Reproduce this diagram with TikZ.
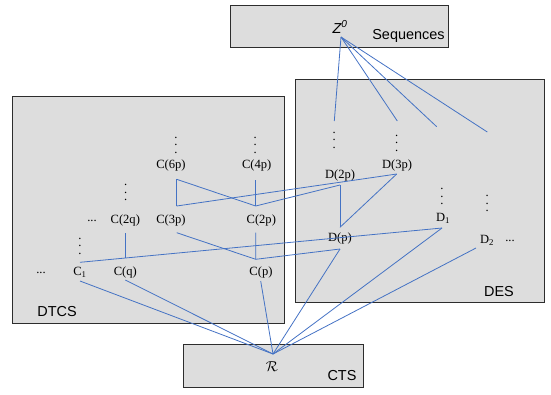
\documentclass[tikz,border=0pt]{standalone}
\usepackage{fontspec}
\setmainfont{Liberation Serif}
\newfontfamily\arialf{Liberation Sans}
\usetikzlibrary{calc}
\definecolor{lnblue}{RGB}{68,114,196}
\definecolor{boxfill}{RGB}{221,221,221}
\definecolor{boxline}{RGB}{45,45,45}
\newcommand{\myvd}{\vbox{\baselineskip=7.5bp\lineskiplimit=-100bp\lineskip=0pt\hbox{.}\hbox{.}\hbox{.}}}
\begin{document}
\begin{tikzpicture}[x=1bp,y=-1bp,
  boxnode/.style={draw=boxline, fill=boxfill, line width=1bp, inner sep=0pt, outer sep=0pt},
  lbl/.style={inner sep=0pt, font=\fontsize{12.6}{14}\selectfont},
  sanslbl/.style={inner sep=0pt, font=\arialf\fontsize{14.5}{16}\selectfont},
  vdnode/.style={inner sep=0pt, font=\fontsize{12.6}{14}\selectfont},
  ln/.style={draw=lnblue, line width=0.8bp}]
\useasboundingbox (0,0) rectangle (551,394);
% boxes
\node[boxnode, minimum width=218bp, minimum height=42bp] (seq) at (339,26) {};
\node[boxnode, minimum width=249bp, minimum height=223bp] (des) at (419.5,190.5) {};
\node[boxnode, minimum width=271bp, minimum height=227bp] (dtcs) at (148.5,209.5) {};
\node[boxnode, minimum width=180bp, minimum height=43bp] (cts) at (273,365.5) {};
% box labels
\node[sanslbl] (seqlbl) at (408.5,36) {Sequences};
\node[sanslbl] (deslbl) at (499,292) {DES};
\node[sanslbl] (dtcslbl) at (57,312) {DTCS};
\node[sanslbl] (ctslbl) at (342,376) {CTS};
\node[sanslbl, font=\arialf\itshape\fontsize{14.5}{16}\selectfont] (z0) at (340,27) {Z\textsuperscript{0}};
\node[inner sep=0pt, font=\fontsize{14}{16}\selectfont] (R) at (272,366.5) {$\mathcal{R}$};
% DTCS labels
\node[lbl] (c6p) at (171,165.5) {C(6p)};
\node[lbl] (c4p) at (256.7,165.5) {C(4p)};
\node[lbl] (c2q) at (125.3,220) {C(2q)};
\node[lbl] (c3p) at (171,220) {C(3p)};
\node[lbl] (c2p) at (261.3,220) {C(2p)};
\node[lbl] (dotsA) at (92,220.7) {...};
\node[lbl] (c1) at (80,272) {C\textsubscript{1}};
\node[lbl] (cq) at (125.3,272) {C(q)};
\node[lbl] (cp) at (261,272) {C(p)};
\node[lbl] (dotsB) at (41,272.7) {...};
\node[vdnode] (vc6p) at (176,145) {\myvd};
\node[vdnode] (vc4p) at (255.3,145) {\myvd};
\node[vdnode] (vc2q) at (125.7,192.5) {\myvd};
\node[vdnode] (vc1) at (80,246) {\myvd};
% DES labels
\node[lbl] (d3p) at (397,165.5) {D(3p)};
\node[lbl] (d2p) at (340,175) {D(2p)};
\node[lbl] (d1) at (443,218) {D\textsubscript{1}};
\node[lbl] (dp) at (340,238) {D(p)};
\node[lbl] (d2) at (487,240) {D\textsubscript{2}};
\node[lbl] (dotsC) at (510,241) {...};
\node[vdnode] (vd2p) at (334.3,140) {\myvd};
\node[vdnode] (vd3p) at (396.7,143.3) {\myvd};
\node[vdnode] (vd1) at (442,196.5) {\myvd};
\node[vdnode] (vd2) at (487.3,203.5) {\myvd};
% connection points
\coordinate (z0a) at ($(z0)+(1,10)$);
\coordinate (t1) at ($(vd2p)+(0,-19)$);
\coordinate (t2) at ($(vd3p)+(0.6,-22.3)$);
\coordinate (t3) at ($(vd1)+(-5.3,-69.8)$);
\coordinate (t4) at ($(vd2)+(0,-71.5)$);
\coordinate (c6pB) at ($(c6p)+(5.7,13.8)$);
\coordinate (c3pT) at ($(c3p)+(5.7,-14)$);
\coordinate (c3pB) at ($(c3p)+(5.7,12.7)$);
\coordinate (c4pB) at ($(c4p)+(-1,14.5)$);
\coordinate (c2pT) at ($(c2p)+(-5.6,-14)$);
\coordinate (c2pB) at ($(c2p)+(-5.6,12.7)$);
\coordinate (cpT) at ($(cp)+(-5.3,-12.7)$);
\coordinate (cpB) at ($(cp)+(-0.3,9)$);
\coordinate (c2qB) at ($(c2q)+(0.4,13)$);
\coordinate (cqT) at ($(cq)+(0.4,-14.5)$);
\coordinate (cqB) at ($(cq)+(0,8)$);
\coordinate (c1T) at ($(c1)+(0,-9.7)$);
\coordinate (c1B) at ($(c1)+(0,9)$);
\coordinate (d3pB) at ($(d3p)+(-0.3,8.5)$);
\coordinate (d2pB) at ($(d2p)+(0,10)$);
\coordinate (dpT) at ($(dp)+(0,-10.7)$);
\coordinate (dpB) at ($(dp)+(0,11)$);
\coordinate (d1B) at ($(d1)+(-1,10)$);
\coordinate (d2B) at ($(d2)+(-11,8)$);
\coordinate (Ra) at ($(R)+(1,-12.5)$);
% connectors
\draw[ln] (z0a) -- (t1);
\draw[ln] (z0a) -- (t2);
\draw[ln] (z0a) -- (t3);
\draw[ln] (z0a) -- (t4);
\draw[ln] (c6pB) -- (c3pT);
\draw[ln] (c6pB) -- (c2pT);
\draw[ln] (c4pB) -- (c2pT);
\draw[ln] (c3pB) -- (cpT);
\draw[ln] (c2pB) -- (cpT);
\draw[ln] (c2qB) -- (cqT);
\draw[ln] (c3pT) -- (d3pB);
\draw[ln] (c2pT) -- (d2pB);
\draw[ln] (cpT) -- (dpB);
\draw[ln] (c1T) -- (d1B);
\draw[ln] (d2pB) -- (dpT);
\draw[ln] (d3pB) -- (dpT);
\draw[ln] (c1B) -- (Ra);
\draw[ln] (cqB) -- (Ra);
\draw[ln] (cpB) -- (Ra);
\draw[ln] (dpB) -- (Ra);
\draw[ln] (d1B) -- (Ra);
\draw[ln] (d2B) -- (Ra);
\end{tikzpicture}
\end{document}
